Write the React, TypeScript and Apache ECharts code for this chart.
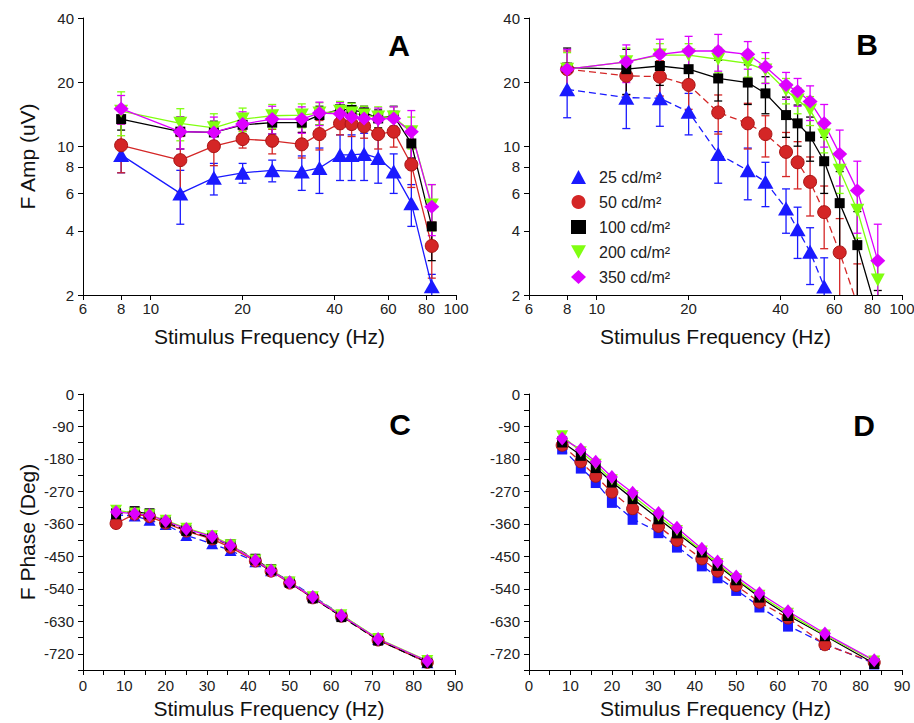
import React, { useEffect, useRef } from 'react';
import * as echarts from 'echarts';

// Stimulus frequencies (Hz)
const freqs = [8, 12.5, 16.1, 20, 25, 31.25, 35.7, 41.7, 45.5, 50, 55.6, 62.5, 71.4, 83.3];

const seriesNames = ['25 cd/m²', '50 cd/m²', '100 cd/m²', '200 cd/m²', '350 cd/m²'];

// Panel A amplitude (uV)
const ampA25 = [9.1, 6.0, 7.1, 7.5, 7.7, 7.6, 7.9, 9.1, 9.1, 9.2, 8.8, 7.6, 5.4, 2.2];
const ampA50 = [10.1, 8.6, 10.0, 10.8, 10.6, 10.2, 11.4, 12.8, 12.7, 12.4, 11.4, 11.7, 8.2, 3.4];
const ampA100 = [13.4, 11.7, 11.6, 12.6, 12.9, 12.9, 14.0, 14.9, 14.8, 14.4, 13.5, 13.9, 10.3, 4.2];
const ampA200 = [14.6, 12.8, 12.2, 13.4, 13.9, 14.0, 14.3, 14.6, 14.3, 14.0, 13.7, 13.7, 11.7, 5.3];
const ampA350 = [15.0, 11.7, 11.6, 12.7, 13.4, 13.4, 14.3, 14.2, 13.7, 13.5, 13.4, 13.5, 11.7, 5.2];
const errA25 = [1.6, 1.7, 1.2, 0.8, 0.9, 1.4, 1.9, 2.2, 2.2, 2.3, 2.1, 1.6, 1.2, 0.3];
const errA50 = [2.6, 2.5, 1.9, 1.0, 1.4, 1.4, 1.8, 1.5, 1.6, 1.5, 1.7, 1.8, 1.8, 1.0];
const errA100 = [1.5, 2.0, 1.5, 1.2, 1.5, 1.3, 1.4, 1.3, 1.2, 1.0, 1.3, 1.5, 1.5, 1.3];
const errA200 = [3.4, 2.2, 2.0, 1.7, 1.8, 1.8, 1.7, 1.6, 1.6, 1.4, 1.6, 1.6, 2.0, 1.3];
const errA350 = [2.3, 2.0, 2.1, 1.8, 2.0, 1.9, 1.8, 1.8, 1.7, 1.6, 1.7, 1.8, 3.0, 1.4];

// Panel B amplitude (uV)
const ampB25 = [18.5, 16.9, 16.8, 14.5, 9.2, 7.7, 6.8, 5.1, 4.07, 3.19, 2.19, null, null, null];
const ampB50 = [23.0, 21.4, 21.2, 19.4, 14.4, 12.8, 11.4, 9.4, 8.4, 6.8, 4.9, 3.17, 1.8, null];
const ampB100 = [23.4, 23.0, 23.8, 23.0, 20.8, 19.9, 17.7, 14.0, 12.8, 11.1, 8.5, 5.4, 3.43, 1.6];
const ampB200 = [23.0, 24.9, 26.8, 26.8, 25.6, 24.5, 22.8, 18.3, 16.5, 14.8, 11.3, 7.7, 5.0, 2.35];
const ampB350 = [23.0, 24.9, 27.0, 28.0, 28.0, 27.0, 23.6, 19.4, 18.1, 16.2, 12.8, 9.2, 6.2, 2.9];
const errB25 = [4.9, 4.8, 4.4, 3.2, 2.5, 2.1, 1.6, 1.2, 1.1, 0.95, 0.8, 0, 0, 0];
const errB50 = [5.0, 4.0, 4.0, 4.5, 3.0, 3.1, 2.5, 2.2, 2.1, 2.1, 1.6, 1.4, 1.0, 0];
const errB100 = [5.5, 5.5, 4.5, 4.5, 4.5, 4.2, 3.5, 3.0, 2.8, 2.6, 2.5, 2.2, 1.5, 0.5];
const errB200 = [4.5, 4.0, 3.5, 3.5, 3.5, 3.4, 3.0, 2.5, 2.3, 2.3, 2.0, 1.7, 1.3, 0.6];
const errB350 = [5.5, 5.0, 4.8, 4.8, 5.5, 4.0, 3.9, 2.8, 2.7, 3.0, 2.9, 2.7, 2.3, 1.4];

// Panel C phase (deg)
const phC25 = [-335, -338, -350, -362, -392, -415, -434, -465, -490, -518, -560, -612, -680, -745];
const phC50 = [-359, -333, -340, -358, -380, -402, -425, -463, -491, -524, -565, -616, -682, -744];
const phC100 = [-332, -326, -332, -355, -378, -400, -418, -458, -487, -522, -565, -617, -682, -744];
const phC200 = [-322, -330, -335, -350, -372, -393, -418, -460, -488, -521, -562, -612, -678, -739];
const phC350 = [-327, -332, -336, -352, -374, -395, -420, -461, -489, -522, -563, -614, -679, -740];
const errC25 = [8, 8, 9, 9, 10, 9, 9, 8, 7, 8, 8, 8, 7, 7];
const errC50 = [10, 7, 7, 7, 7, 7, 7, 7, 6, 6, 6, 6, 6, 6];
const errC100 = [7, 8, 8, 7, 8, 8, 8, 7, 6, 6, 6, 6, 6, 6];
const errC200 = [7, 6, 6, 6, 6, 6, 6, 6, 6, 6, 6, 6, 6, 6];
const errC350 = [6, 6, 6, 6, 6, 6, 6, 6, 6, 6, 6, 6, 6, 6];

// Panel D phase (deg)
const phD25 = [-151, -204, -244, -299, -346, -383, -423, -475, -508, -543, -589, -642, -693, -747];
const phD50 = [-142, -188, -228, -272, -318, -367, -406, -457, -491, -531, -577, -621, -695, -744];
const phD100 = [-133, -170, -204, -244, -290, -346, -385, -438, -475, -515, -563, -614, -670, -747];
const phD200 = [-116, -160, -195, -238, -282, -338, -378, -435, -470, -512, -558, -608, -668, -740];
const phD350 = [-123, -154, -188, -230, -274, -330, -371, -429, -464, -506, -552, -602, -664, -738];
const errD25 = [6, 7, 7, 7, 7, 7, 7, 7, 7, 7, 8, 12, 8, 6];
const errD50 = [6, 6, 6, 6, 6, 6, 6, 6, 6, 6, 6, 7, 10, 6];
const errD100 = [6, 6, 6, 6, 6, 6, 6, 6, 6, 6, 6, 6, 6, 6];
const errD200 = [6, 6, 6, 6, 6, 6, 6, 6, 6, 6, 6, 6, 6, 6];
const errD350 = [6, 6, 6, 6, 6, 6, 6, 6, 6, 6, 6, 6, 6, 6];

// Tick values
const logXTicks = [6, 8, 10, 20, 40, 60, 80, 100];
const logYTicks = [2, 4, 6, 8, 10, 20, 40];
const linXLabels = [0, 10, 20, 30, 40, 50, 60, 70, 80, 90];
const linXTicks = [0, 5, 10, 15, 20, 25, 30, 35, 40, 45, 50, 55, 60, 65, 70, 75, 80, 85, 90];
const phaseLabels = [0, -90, -180, -270, -360, -450, -540, -630, -720];
const phaseTicks = [0, -45, -90, -135, -180, -225, -270, -315, -360, -405, -450, -495, -540, -585, -630, -675, -720, -765];

const FONT = 'Liberation Sans, Arial, Helvetica, sans-serif';
const colors = ['#1a1aff', '#d42626', '#000000', '#80ff10', '#dd00ff'];
const borders = ['#1010e0', '#a81414', '#000000', '#70e000', '#c800e8'];

const panels = [
  { vals: [ampA25, ampA50, ampA100, ampA200, ampA350], errs: [errA25, errA50, errA100, errA200, errA350], log: true, dashed: [false, false, false, false, false], label: 'A' },
  { vals: [ampB25, ampB50, ampB100, ampB200, ampB350], errs: [errB25, errB50, errB100, errB200, errB350], log: true, dashed: [true, true, false, false, false], label: 'B' },
  { vals: [phC25, phC50, phC100, phC200, phC350], errs: [errC25, errC50, errC100, errC200, errC350], log: false, dashed: [true, false, true, false, false], label: 'C' },
  { vals: [phD25, phD50, phD100, phD200, phD350], errs: [errD25, errD50, errD100, errD200, errD350], log: false, dashed: [true, true, false, false, false], label: 'D' },
];

function symbolFor(si: number, pi: number) {
  if (si === 0) return pi === 3 ? 'rect' : 'triangle';
  if (si === 1) return 'circle';
  if (si === 2) return 'rect';
  if (si === 3) return 'triangle';
  return 'diamond';
}

function sizeFor(si: number, pi: number): number[] {
  const big = pi < 2;
  if (si === 0) return pi === 3 ? [10, 12] : big ? [16, 14] : [12, 11];
  if (si === 1) return big ? [13, 13] : [12, 12];
  if (si === 2) return big ? [10, 10] : [10, 11];
  if (si === 3) return big ? [14, 13] : [12, 11];
  return big ? [15, 14] : [12, 14];
}

function buildOption() {
  const grids = [
    { left: 83, top: 18, width: 373, height: 277 },
    { left: 529, top: 18, width: 373, height: 277 },
    { left: 83, top: 394, width: 372, height: 276 },
    { left: 529, top: 394, width: 373, height: 276 },
  ].map((g) => ({ ...g, outerBoundsMode: 'none', containLabel: false }));

  const axisLine = { show: true, onZero: false, lineStyle: { color: '#000', width: 1 } };
  const tickStyle = { color: '#000', width: 1 };
  const labelStyle = { fontSize: 15, color: '#222', fontFamily: FONT };
  const nameStyle = { fontSize: 21, color: '#111', fontFamily: FONT };

  const xAxis: any[] = [];
  const yAxis: any[] = [];
  panels.forEach((p, pi) => {
    if (p.log) {
      xAxis.push({
        type: 'log', logBase: 10, gridIndex: pi, min: 6, max: 100,
        axisLine, axisTick: { show: true, length: 5, customValues: logXTicks, lineStyle: tickStyle },
        axisLabel: { ...labelStyle, margin: 6, customValues: logXTicks },
        splitLine: { show: false }, minorTick: { show: false },
        name: 'Stimulus Frequency (Hz)', nameLocation: 'middle', nameGap: 31, nameTextStyle: nameStyle,
      });
      yAxis.push({
        type: 'log', logBase: 10, gridIndex: pi, min: 2, max: 40,
        axisLine, axisTick: { show: true, length: 5, customValues: logYTicks, lineStyle: tickStyle },
        axisLabel: { ...labelStyle, margin: 9, customValues: logYTicks },
        splitLine: { show: false }, minorTick: { show: false },
        name: pi === 0 ? 'F Amp (uV)' : '', nameLocation: 'middle', nameGap: 45, nameRotate: 90, nameTextStyle: nameStyle,
      });
    } else {
      xAxis.push({
        type: 'value', gridIndex: pi, min: 0, max: 90,
        axisLine, axisTick: { show: true, length: 5, customValues: linXTicks, lineStyle: tickStyle },
        axisLabel: { ...labelStyle, margin: 8, customValues: linXLabels },
        splitLine: { show: false },
        name: 'Stimulus Frequency (Hz)', nameLocation: 'middle', nameGap: 28, nameTextStyle: nameStyle,
      });
      yAxis.push({
        type: 'value', gridIndex: pi, min: -765, max: 0,
        axisLine, axisTick: { show: true, length: 5, customValues: phaseTicks, lineStyle: tickStyle },
        axisLabel: { ...labelStyle, margin: 9, customValues: phaseLabels },
        splitLine: { show: false },
        name: pi === 2 ? 'F Phase (Deg)' : '', nameLocation: 'middle', nameGap: 45, nameRotate: 90, nameTextStyle: nameStyle,
      });
    }
  });

  const series: any[] = [];
  panels.forEach((p, pi) => {
    p.vals.forEach((vals, si) => {
      const errs = p.errs[si];
      const color = colors[si];
      const errData = freqs
        .map((f, i) => [f, vals[i], errs[i]])
        .filter((d) => d[1] !== null && (d[2] as number) > 0);
      series.push({
        type: 'custom',
        name: 'err' + pi + '_' + si,
        xAxisIndex: pi, yAxisIndex: pi,
        clip: true,
        silent: true,
        encode: { x: 0, y: 1 },
        data: errData,
        renderItem: (params: any, api: any) => {
          const x = api.value(0);
          const y = api.value(1);
          const e = api.value(2);
          const loV = p.log ? Math.max(y - e, 0.05) : y - e;
          const lo = api.coord([x, loV]);
          const hi = api.coord([x, y + e]);
          const cap = 4;
          const st = { stroke: color, lineWidth: 1.3 };
          return {
            type: 'group',
            children: [
              { type: 'line', shape: { x1: lo[0], y1: lo[1], x2: hi[0], y2: hi[1] }, style: st },
              { type: 'line', shape: { x1: lo[0] - cap, y1: lo[1], x2: lo[0] + cap, y2: lo[1] }, style: st },
              { type: 'line', shape: { x1: hi[0] - cap, y1: hi[1], x2: hi[0] + cap, y2: hi[1] }, style: st },
            ],
          };
        },
      });
      series.push({
        type: 'line',
        name: seriesNames[si],
        xAxisIndex: pi, yAxisIndex: pi,
        data: freqs.map((f, i) => [f, vals[i]]),
        connectNulls: false,
        clip: true,
        symbol: symbolFor(si, pi),
        symbolSize: sizeFor(si, pi),
        symbolRotate: si === 3 ? 180 : 0,
        showAllSymbol: true,
        lineStyle: { color, width: 1.3, type: p.dashed[si] ? [7, 4] : 'solid' },
        itemStyle: { color, borderColor: borders[si], borderWidth: si === 1 ? 1 : 0, opacity: 1 },
        emphasis: { disabled: true },
      });
    });
  });

  const graphic = [
    { type: 'text', x: 399, y: 45, style: { text: 'A', font: `bold 30px ${FONT}`, fill: '#000', align: 'center', verticalAlign: 'middle' } },
    { type: 'text', x: 867, y: 44, style: { text: 'B', font: `bold 30px ${FONT}`, fill: '#000', align: 'center', verticalAlign: 'middle' } },
    { type: 'text', x: 400, y: 424, style: { text: 'C', font: `bold 30px ${FONT}`, fill: '#000', align: 'center', verticalAlign: 'middle' } },
    { type: 'text', x: 864, y: 425, style: { text: 'D', font: `bold 30px ${FONT}`, fill: '#000', align: 'center', verticalAlign: 'middle' } },
  ];

  const legendIcons = ['triangle', 'circle', 'rect', 'path://M0,0L10,0L5,9Z', 'diamond'];

  return {
    animation: false,
    backgroundColor: '#fff',
    textStyle: { fontFamily: FONT },
    grid: grids,
    xAxis,
    yAxis,
    series,
    graphic,
    legend: {
      orient: 'vertical',
      left: 566,
      top: 164,
      itemWidth: 15,
      itemHeight: 14,
      itemGap: 9,
      selectedMode: false,
      data: seriesNames.map((n, i) => ({ name: n, icon: legendIcons[i], itemStyle: { color: colors[i], borderWidth: 0 } })),
      textStyle: { fontSize: 16, color: '#222', fontFamily: FONT, padding: [0, 0, 0, 8] },
    },
  };
}

export default function App() {
  const ref = useRef<HTMLDivElement>(null);
  useEffect(() => {
    if (!ref.current) return;
    const chart = echarts.init(ref.current, undefined, { renderer: 'svg' });
    chart.setOption(buildOption() as any);
    return () => chart.dispose();
  }, []);
  return (
    <div
      ref={ref}
      style={{ position: 'fixed', left: 0, top: 0, width: 914, height: 723, background: '#fff' }}
    />
  );
}
